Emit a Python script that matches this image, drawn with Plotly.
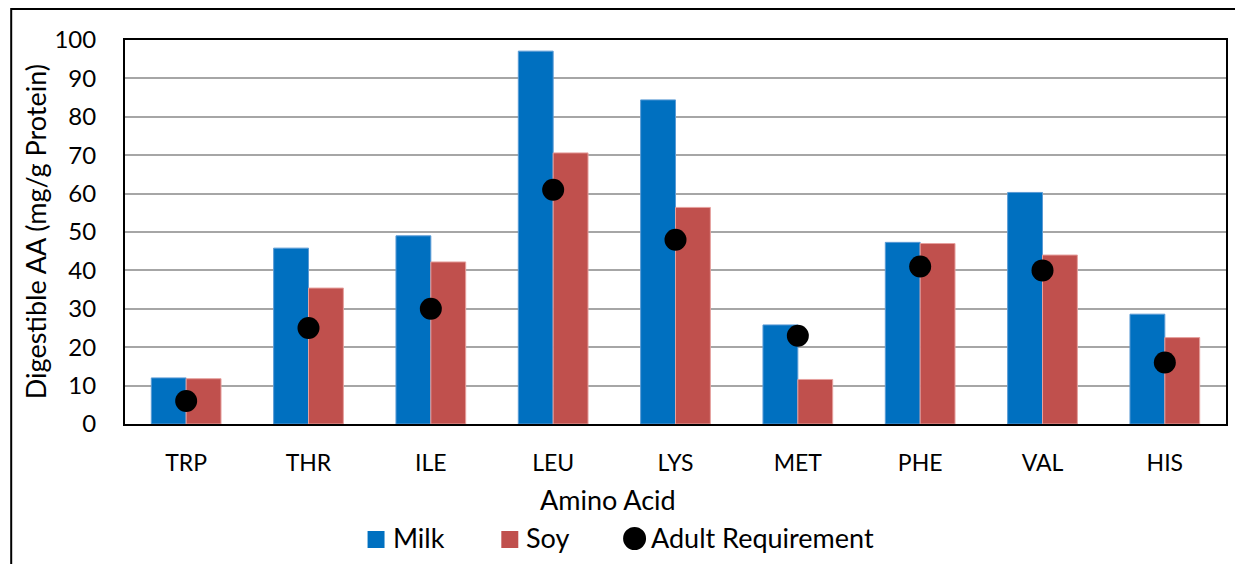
import plotly.graph_objects as go

amino_acids = ["TRP", "THR", "ILE", "LEU", "LYS", "MET", "PHE", "VAL", "HIS"]
milk = [12.0, 45.8, 49.0, 97.1, 84.4, 25.8, 47.3, 60.3, 28.6]
soy = [11.8, 35.4, 42.2, 70.6, 56.4, 11.6, 47.0, 44.0, 22.5]
adult_requirement = [6, 25, 30, 61, 48, 23, 41, 40, 16]
y_ticks = [0, 10, 20, 30, 40, 50, 60, 70, 80, 90, 100]

FONT = "Lato"
MILK_COLOR = "#0070C0"
SOY_COLOR = "#C0504D"

# plot area in pixels: x 125..1228, y 40..424
PL, PR, PT, PB = 125, 1228, 40, 424


def px_x(x):
    return (x - PL) / (PR - PL)


def px_y(y):
    return (PB - y) / (PB - PT)


fig = go.Figure()
fig.add_trace(go.Bar(
    name="Milk", x=amino_acids, y=milk,
    marker=dict(color=MILK_COLOR, line=dict(color="#5B9BD5", width=1)),
))
fig.add_trace(go.Bar(
    name="Soy", x=amino_acids, y=soy,
    marker=dict(color=SOY_COLOR, line=dict(color="#E6A09E", width=1)),
))
fig.add_trace(go.Scatter(
    name="Adult Requirement", x=amino_acids, y=adult_requirement,
    mode="markers", marker=dict(color="black", size=22, symbol="circle"),
))

# legend drawn below the axis title
legend_shapes = [
    dict(type="rect", xref="paper", yref="paper",
         x0=px_x(368), x1=px_x(385), y0=px_y(548), y1=px_y(531),
         fillcolor=MILK_COLOR, line=dict(width=0)),
    dict(type="rect", xref="paper", yref="paper",
         x0=px_x(502), x1=px_x(519), y0=px_y(548), y1=px_y(531),
         fillcolor=SOY_COLOR, line=dict(width=0)),
    dict(type="circle", xref="paper", yref="paper",
         x0=px_x(624), x1=px_x(647), y0=px_y(550), y1=px_y(527),
         fillcolor="black", line=dict(width=0)),
]
legend_labels = [("Milk", 391), ("Soy", 525), ("Adult Requirement", 650)]
legend_annotations = [
    dict(text=t, xref="paper", yref="paper", x=px_x(xp), y=px_y(537),
         xanchor="left", yanchor="middle", showarrow=False,
         font=dict(size=27))
    for t, xp in legend_labels
]

fig.update_layout(
    width=1235, height=564,
    margin=dict(l=PL, r=1235 - PR, t=PT, b=564 - PB),
    paper_bgcolor="white", plot_bgcolor="white",
    barmode="group", bargap=0.43, bargroupgap=0,
    font=dict(family=FONT, size=20, color="black"),
    showlegend=False,
    xaxis=dict(
        range=[-0.5, 8.5],
        showline=True, linecolor="black", linewidth=2, mirror=True,
        showgrid=False, ticks="", ticklabelstandoff=17,
        tickfont=dict(size=23),
    ),
    yaxis=dict(
        range=[0, 100], tickvals=y_ticks, showgrid=True, gridcolor="#A6A6A6",
        gridwidth=2, showline=True, linecolor="black", linewidth=2, mirror=True,
        ticks="", ticklabelstandoff=22, tickfont=dict(size=24), zeroline=False,
    ),
    annotations=[
        dict(text="Amino Acid", xref="paper", yref="paper", x=px_x(609),
             y=px_y(499), xanchor="center", yanchor="middle", showarrow=False,
             font=dict(size=27)),
        dict(text="Digestible AA (mg/g Protein)", xref="paper", yref="paper",
             x=px_x(35), y=px_y(232), xanchor="center", yanchor="middle",
             textangle=-90, showarrow=False, font=dict(size=27)),
    ] + legend_annotations,
    shapes=[
        dict(type="rect", xref="paper", yref="paper", x0=px_x(11), x1=1.2,
             y0=-0.6, y1=px_y(9), line=dict(color="black", width=2),
             layer="below"),
    ] + legend_shapes,
)

fig.write_html("out.html")
